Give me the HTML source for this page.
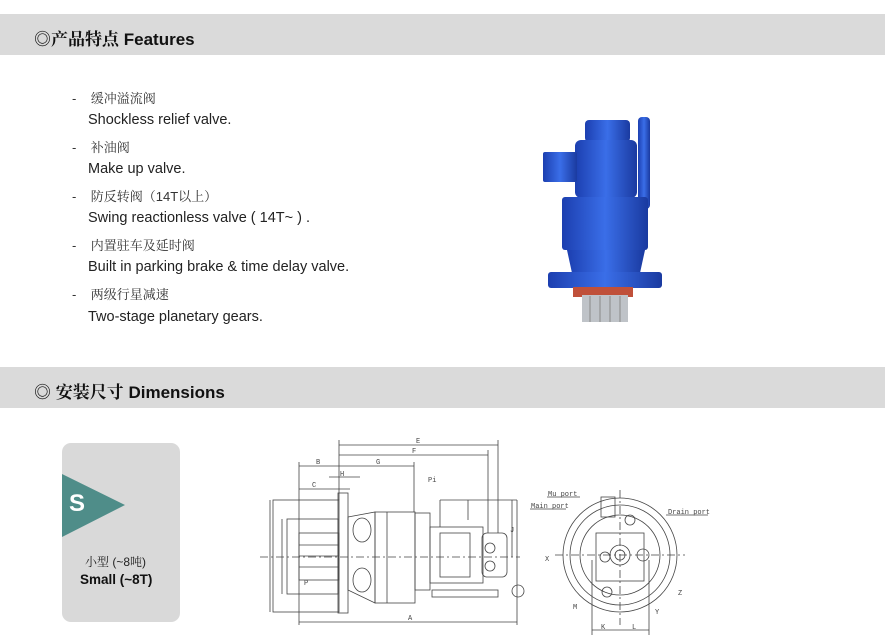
<!DOCTYPE html>
<html><head><meta charset="utf-8"><style>
body{margin:0;width:885px;height:643px;background:#fff;position:relative;overflow:hidden;font-family:"Liberation Sans","Noto Sans CJK SC",sans-serif;}
.bar{position:absolute;left:0;width:885px;height:41px;background:#dadada;}
.bar span{position:absolute;left:34px;top:11px;font-size:17px;font-weight:bold;color:#111;font-family:"Liberation Sans","Noto Serif CJK SC",serif;}
.bar b{font-family:"Liberation Sans",sans-serif;font-size:17px}
.l{position:absolute;font-size:14.5px;color:#222;white-space:nowrap;}
.cn{font-family:"Liberation Sans","Noto Serif CJK SC",serif;font-size:13px;color:#333}
.card{position:absolute;left:62px;top:443px;width:118px;height:179px;background:#d9d9d9;border-radius:9px;}
</style></head><body>
<div class="bar" style="top:14px"><span>◎产品特点 <b>Features</b></span></div>
<div class="bar" style="top:367px"><span>◎ 安装尺寸 <b>Dimensions</b></span></div>

<div class="l cn" style="left:72px;top:88px">-&nbsp;&nbsp;&nbsp; 缓冲溢流阀</div>
<div class="l" style="left:88px;top:112px">Shockless relief valve.</div>
<div class="l cn" style="left:72px;top:137px">-&nbsp;&nbsp;&nbsp; 补油阀</div>
<div class="l" style="left:88px;top:161px">Make up valve.</div>
<div class="l cn" style="left:72px;top:186px">-&nbsp;&nbsp;&nbsp; 防反转阀（14T以上）</div>
<div class="l" style="left:88px;top:210px">Swing reactionless valve ( 14T~ ) .</div>
<div class="l cn" style="left:72px;top:235px">-&nbsp;&nbsp;&nbsp; 内置驻车及延时阀</div>
<div class="l" style="left:88px;top:259px">Built in parking brake &amp; time delay valve.</div>
<div class="l cn" style="left:72px;top:284px">-&nbsp;&nbsp;&nbsp; 两级行星减速</div>
<div class="l" style="left:88px;top:309px">Two-stage planetary gears.</div>

<svg style="position:absolute;left:0;top:0" width="885" height="643">
<defs><linearGradient id="bg" x1="0" x2="1"><stop offset="0" stop-color="#1c3fb0"/><stop offset=".5" stop-color="#3a6ee8"/><stop offset="1" stop-color="#1a3aa0"/></linearGradient></defs>
<g fill="url(#bg)">
<rect x="585" y="120" width="45" height="22" rx="4"/>
<rect x="575" y="140" width="62" height="58" rx="6"/>
<rect x="543" y="152" width="34" height="30" rx="2"/>
<rect x="638" y="117" width="12" height="92" rx="4"/>
<rect x="562" y="197" width="86" height="53" rx="3"/>
<polygon points="567,250 645,250 640,273 572,273"/>
<rect x="548" y="272" width="114" height="16" rx="3"/>
</g>
<rect x="573" y="287" width="60" height="10" fill="#c0503a"/>
<rect x="582" y="295" width="46" height="27" fill="#bfc3c8"/>
<g stroke="#888" stroke-width="1"><line x1="590" y1="296" x2="590" y2="322"/><line x1="600" y1="296" x2="600" y2="322"/><line x1="610" y1="296" x2="610" y2="322"/><line x1="620" y1="296" x2="620" y2="322"/></g>

<g fill="none" stroke="#444" stroke-width="0.8">
<rect x="273" y="500" width="66" height="112"/>
<rect x="338" y="493" width="10" height="120"/>
<rect x="287" y="519" width="51" height="75"/>
<rect x="299" y="533" width="40" height="47"/>
<line x1="299" y1="545" x2="339" y2="545"/><line x1="299" y1="556" x2="339" y2="556"/><line x1="299" y1="567" x2="339" y2="567"/>
<path d="M348 517 L375 512 L375 603 L348 590 Z"/>
<ellipse cx="362" cy="530" rx="9" ry="12"/><ellipse cx="362" cy="580" rx="9" ry="12"/>
<rect x="375" y="512" width="40" height="91"/>
<line x1="387" y1="512" x2="387" y2="603"/>
<rect x="415" y="513" width="15" height="77"/>
<rect x="430" y="527" width="53" height="56"/>
<rect x="440" y="533" width="30" height="44"/>
<rect x="482" y="533" width="25" height="44" rx="5"/>
<circle cx="490" cy="548" r="5"/><circle cx="490" cy="566" r="5"/>
<rect x="432" y="590" width="66" height="7"/>
<circle cx="518" cy="591" r="6"/>
<line x1="440" y1="527" x2="440" y2="500"/><line x1="468" y1="520" x2="468" y2="500"/>
<line x1="440" y1="500" x2="517" y2="500"/>
<line x1="260" y1="557" x2="520" y2="557" stroke-dasharray="8 3 2 3"/>
<line x1="339" y1="445" x2="498" y2="445"/><line x1="339" y1="455" x2="488" y2="455"/>
<line x1="299" y1="466" x2="339" y2="466"/><line x1="339" y1="466" x2="414" y2="466"/>
<line x1="329" y1="477" x2="360" y2="477"/><line x1="299" y1="489" x2="350" y2="489"/>
<line x1="299" y1="622" x2="517" y2="622"/>
<line x1="339" y1="440" x2="339" y2="500"/><line x1="498" y1="440" x2="498" y2="533"/><line x1="488" y1="450" x2="488" y2="533"/>
<line x1="414" y1="462" x2="414" y2="512"/><line x1="299" y1="462" x2="299" y2="625"/><line x1="517" y1="500" x2="517" y2="625"/>
<line x1="270" y1="500" x2="270" y2="612"/><line x1="282" y1="519" x2="282" y2="594"/>
<line x1="512" y1="500" x2="512" y2="557"/>
<circle cx="620" cy="555" r="57"/><circle cx="620" cy="555" r="50"/><circle cx="620" cy="555" r="40"/>
<rect x="596" y="533" width="48" height="48"/>
<circle cx="620" cy="555" r="10"/><circle cx="620" cy="555" r="5"/>
<circle cx="643" cy="555" r="6"/><circle cx="605" cy="557" r="5"/>
<rect x="601" y="497" width="14" height="20"/>
<circle cx="630" cy="520" r="5"/><circle cx="607" cy="592" r="5"/>
<line x1="555" y1="555" x2="685" y2="555" stroke-dasharray="8 3 2 3"/>
<line x1="620" y1="490" x2="620" y2="625" stroke-dasharray="8 3 2 3"/>
<line x1="592" y1="560" x2="592" y2="635"/><line x1="649" y1="560" x2="649" y2="635"/>
<line x1="592" y1="630" x2="649" y2="630"/>
<line x1="547" y1="497" x2="580" y2="497"/><line x1="530" y1="509" x2="566" y2="509"/><line x1="666" y1="515" x2="708" y2="515"/>
</g>
<g font-family="Liberation Mono,monospace" font-size="7" fill="#444">
<text x="416" y="443">E</text><text x="412" y="453">F</text><text x="316" y="464">B</text><text x="376" y="464">G</text><text x="340" y="476">H</text><text x="312" y="487">C</text><text x="408" y="620">A</text>
<text x="428" y="482">Pi</text><text x="510" y="532">J</text><text x="304" y="585">P</text>
<text x="548" y="496">Mu port</text><text x="531" y="508">Main port</text><text x="668" y="514">Drain port</text>
<text x="545" y="561">X</text><text x="573" y="609">M</text><text x="678" y="595">Z</text><text x="655" y="614">Y</text>
<text x="601" y="629">K</text><text x="632" y="629">L</text>
</g>
</svg>

<div class="card"></div>
<svg style="position:absolute;left:62px;top:474px" width="64" height="64"><polygon points="0,0 63,31 0,63" fill="#4f8d89"/></svg>
<div style="position:absolute;left:69px;top:490px;color:#fff;font-weight:bold;font-size:24px">S</div>
<div class="l cn" style="left:85px;top:553px;font-size:12px;color:#222">小型 (~8吨)</div>
<div class="l" style="left:80px;top:572px;font-size:13.5px;font-weight:bold;color:#111">Small (~8T)</div>
</body></html>
